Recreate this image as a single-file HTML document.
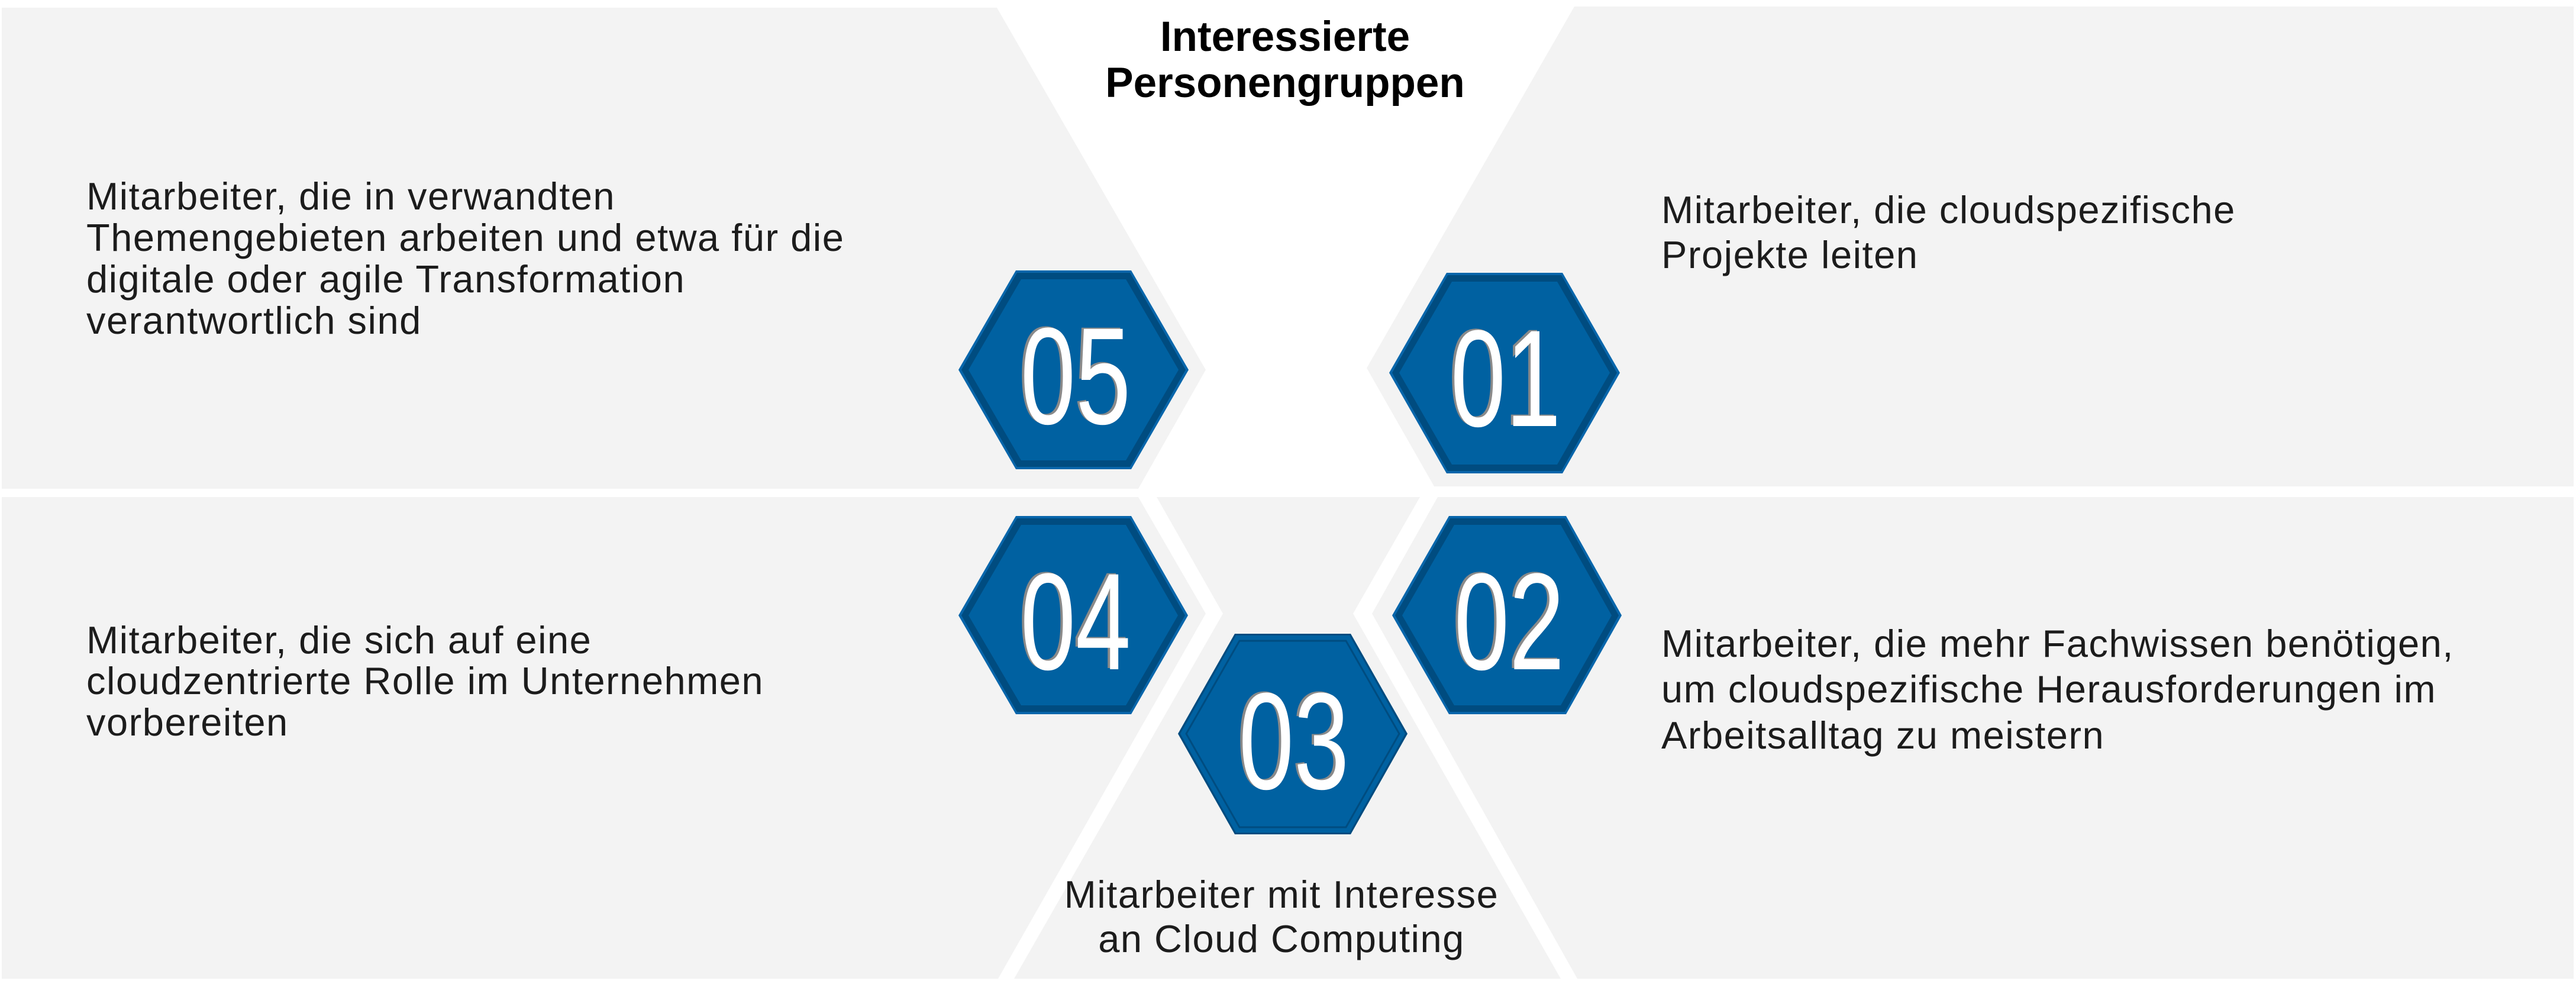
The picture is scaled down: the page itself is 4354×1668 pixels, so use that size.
<!DOCTYPE html>
<html><head><meta charset="utf-8"><style>
html,body{margin:0;padding:0;background:#fff;}
svg{display:block;}
.b{font-family:"Liberation Sans",sans-serif;font-size:65px;fill:#1c1c1c;letter-spacing:1.5px;}
.t{font-family:"Liberation Sans",sans-serif;font-size:71px;font-weight:bold;fill:#000;}
.n{font-family:"Liberation Sans",sans-serif;font-size:233px;fill:#fff;}
</style></head><body>
<svg width="4354" height="1668" viewBox="0 0 4354 1668" xmlns="http://www.w3.org/2000/svg">
<rect width="4354" height="1668" fill="#fff"/>
<g fill="#f3f3f3">
<polygon points="3,13 1685,13 2038,625 1924,826 3,826"/>
<polygon points="2661,11 4350,11 4350,822 2424,822 2310,622"/>
<polygon points="3,840 1924,840 2038,1037 1687,1654 3,1654"/>
<polygon points="1955,840 2400,840 2287,1037 2638,1654 1714,1654 2067,1037"/>
<polygon points="2430,840 4350,840 4350,1654 2666,1654 2319,1037"/>
</g>
<text class="t" x="2172" y="86" text-anchor="middle">Interessierte</text>
<text class="t" x="2172" y="164" text-anchor="middle">Personengruppen</text>

<text class="b" x="146" y="354">Mitarbeiter, die in verwandten</text>
<text class="b" x="146" y="424">Themengebieten arbeiten und etwa für die</text>
<text class="b" x="146" y="494">digitale oder agile Transformation</text>
<text class="b" x="146" y="564">verantwortlich sind</text>

<text class="b" x="2808" y="377">Mitarbeiter, die cloudspezifische</text>
<text class="b" x="2808" y="453">Projekte leiten</text>

<text class="b" x="146" y="1104">Mitarbeiter, die sich auf eine</text>
<text class="b" x="146" y="1173">cloudzentrierte Rolle im Unternehmen</text>
<text class="b" x="146" y="1243">vorbereiten</text>

<text class="b" x="2808" y="1110">Mitarbeiter, die mehr Fachwissen benötigen,</text>
<text class="b" x="2808" y="1187">um cloudspezifische Herausforderungen im</text>
<text class="b" x="2808" y="1265">Arbeitsalltag zu meistern</text>

<text class="b" x="2166" y="1534" text-anchor="middle">Mitarbeiter mit Interesse</text>
<text class="b" x="2166" y="1609" text-anchor="middle">an Cloud Computing</text>

<!-- hexagons: left x, top y, width, height -->
<g id="h05" transform="translate(1620,457)">
<polygon points="0,168 97,0 292,0 389,168 292,336 97,336" fill="#0866ab"/>
<polygon points="5,168 99,4 290,4 384,168 290,332 99,332" fill="#004c80"/>
<polygon points="17,168 106,15 283,15 372,168 283,321 106,321" fill="#0061a1"/>
</g>
<g transform="translate(2348,461)">
<polygon points="0,169 97,0 293,0 390,169 293,339 97,339" fill="#0866ab"/>
<polygon points="5,169 99,4 291,4 385,169 291,335 99,335" fill="#004c80"/>
<polygon points="17,169 106,15 284,15 373,169 284,324 106,324" fill="#0061a1"/>
</g>
<g transform="translate(1620,872)">
<polygon points="0,168 97,0 292,0 388,168 292,335 97,335" fill="#0866ab"/>
<polygon points="5,168 99,4 290,4 383,168 290,331 99,331" fill="#004c80"/>
<polygon points="17,168 106,15 283,15 371,168 283,320 106,320" fill="#0061a1"/>
</g>
<g transform="translate(2353,872)">
<polygon points="0,168 96,0 294,0 388,168 294,335 96,335" fill="#0866ab"/>
<polygon points="5,168 98,4 292,4 383,168 292,331 98,331" fill="#004c80"/>
<polygon points="17,168 105,15 285,15 371,168 285,320 105,320" fill="#0061a1"/>
</g>
<g transform="translate(1991,1071)">
<polygon points="0,169 96,0 292,0 388,169 292,339 96,339" fill="#004c80"/>
<polygon points="4,169 98,3 290,3 384,169 290,336 98,336" fill="#0061a1"/>
<polygon points="14,169 104,12 284,12 374,169 284,327 104,327" fill="none" stroke="#004c80" stroke-width="3"/>
</g>

<g class="n">
<text transform="translate(1814,714) scale(0.72,1)" text-anchor="middle" style="fill:#8a8a8a">05</text>
<text transform="translate(1818,716) scale(0.72,1)" text-anchor="middle">05</text>
<text transform="translate(2541,718) scale(0.72,1)" text-anchor="middle" style="fill:#8a8a8a">01</text>
<text transform="translate(2545,720) scale(0.72,1)" text-anchor="middle">01</text>
<text transform="translate(1814,1129) scale(0.72,1)" text-anchor="middle" style="fill:#8a8a8a">04</text>
<text transform="translate(1818,1131) scale(0.72,1)" text-anchor="middle">04</text>
<text transform="translate(2547,1129) scale(0.72,1)" text-anchor="middle" style="fill:#8a8a8a">02</text>
<text transform="translate(2551,1131) scale(0.72,1)" text-anchor="middle">02</text>
<text transform="translate(2183,1331) scale(0.72,1)" text-anchor="middle" style="fill:#8a8a8a">03</text>
<text transform="translate(2187,1333) scale(0.72,1)" text-anchor="middle">03</text>
</g>
</svg>
</body></html>
